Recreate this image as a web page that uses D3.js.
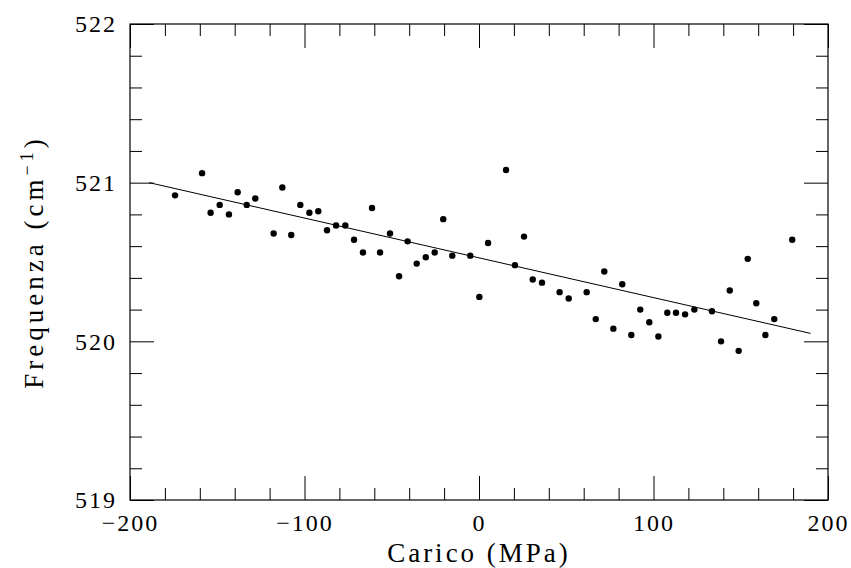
<!DOCTYPE html>
<html>
<head>
<meta charset="utf-8">
<script src="https://cdn.jsdelivr.net/npm/d3@7"></script>
<style>
  body { margin: 0; background: #fff; overflow: hidden; }
  svg { display: block; }
  text { font-family: "Liberation Serif", "DejaVu Serif", serif; fill: #000; }
</style>
</head>
<body>
<div id="chart"></div>
<script>
var carico = [-174.2, -158.7, -153.8, -148.6, -143.3, -138.3, -133.1, -128.2, -117.7, -112.7,
  -107.6, -102.4, -97.2, -92.1, -87.1, -81.9, -76.6, -71.6, -66.5, -61.3,
  -56.7, -51.0, -45.8, -40.9, -35.7, -30.5, -25.4, -20.5, -15.3, -5.0,
  0.2, 5.2, 15.5, 20.6, 25.8, 30.8, 36.1, 46.2, 51.4, 61.7,
  66.9, 71.8, 77.0, 82.1, 87.3, 92.4, 97.6, 102.8, 107.9, 112.9,
  118.1, 123.4, 133.5, 138.7, 143.7, 148.8, 154.0, 158.9, 164.1, 169.2, 179.5];
var frequenza = [520.92, 521.06, 520.81, 520.86, 520.80, 520.94, 520.86, 520.90, 520.68, 520.97,
  520.67, 520.86, 520.81, 520.82, 520.70, 520.73, 520.73, 520.64, 520.56, 520.84,
  520.56, 520.68, 520.41, 520.63, 520.49, 520.53, 520.56, 520.77, 520.54, 520.54,
  520.28, 520.62, 521.08, 520.48, 520.66, 520.39, 520.37, 520.31, 520.27, 520.31,
  520.14, 520.44, 520.08, 520.36, 520.04, 520.20, 520.12, 520.03, 520.18, 520.18,
  520.17, 520.20, 520.19, 520.00, 520.32, 519.94, 520.52, 520.24, 520.04, 520.14, 520.64];

// Fitted line end points
var fitX = [-189, 190];
var fitY = [521.00, 520.05];

var xMajor = [-200, -100, 0, 100, 200];
var yMajor = [519, 520, 521, 522];

var svgWidth = 851;
var svgHeight = 568;
var margin = { top: 24, right: 23, bottom: 68, left: 130 };
var chartWidth = svgWidth - margin.left - margin.right;
var chartHeight = svgHeight - margin.top - margin.bottom;

var svg = d3.select("#chart")
  .append("svg")
  .attr("width", svgWidth)
  .attr("height", svgHeight);

var chartGroup = svg.append("g")
  .attr("transform", `translate(${margin.left}, ${margin.top})`);

var xScale = d3.scaleLinear().domain([-200, 200]).range([0, chartWidth]);
var yScale = d3.scaleLinear().domain([519, 522]).range([chartHeight, 0]);

var xMinor = d3.range(-200, 201, 20).filter(d => d % 100 !== 0);
var yMinor = d3.range(0, 16).map(i => 519 + i * 0.2).filter((d, i) => i % 5 !== 0);

function styleAxis(g) {
  g.select(".domain").remove();
  g.selectAll("line").attr("stroke", "#000").attr("stroke-width", 1);
  g.selectAll("text").style("font-size", "24px").style("letter-spacing", "2px");
}

// bottom axis
chartGroup.append("g")
  .attr("transform", `translate(0, ${chartHeight})`)
  .call(d3.axisBottom(xScale).tickValues(xMajor).tickSize(-24).tickPadding(14))
  .call(styleAxis);
chartGroup.append("g")
  .attr("transform", `translate(0, ${chartHeight})`)
  .call(d3.axisBottom(xScale).tickValues(xMinor).tickSize(-12).tickFormat(""))
  .call(styleAxis);

// top axis
chartGroup.append("g")
  .call(d3.axisTop(xScale).tickValues(xMajor).tickSize(-24).tickFormat(""))
  .call(styleAxis);
chartGroup.append("g")
  .call(d3.axisTop(xScale).tickValues(xMinor).tickSize(-12).tickFormat(""))
  .call(styleAxis);

// left axis
chartGroup.append("g")
  .call(d3.axisLeft(yScale).tickValues(yMajor).tickSize(-24).tickPadding(13).tickFormat(d3.format("d")))
  .call(styleAxis);
chartGroup.append("g")
  .call(d3.axisLeft(yScale).tickValues(yMinor).tickSize(-12).tickFormat(""))
  .call(styleAxis);

// right axis
chartGroup.append("g")
  .attr("transform", `translate(${chartWidth}, 0)`)
  .call(d3.axisRight(yScale).tickValues(yMajor).tickSize(-24).tickFormat(""))
  .call(styleAxis);
chartGroup.append("g")
  .attr("transform", `translate(${chartWidth}, 0)`)
  .call(d3.axisRight(yScale).tickValues(yMinor).tickSize(-12).tickFormat(""))
  .call(styleAxis);

// frame
chartGroup.append("rect")
  .attr("width", chartWidth)
  .attr("height", chartHeight)
  .attr("fill", "none")
  .attr("stroke", "#000")
  .attr("stroke-width", 1.2);

// fit line
var line = d3.line()
  .x((d, i) => xScale(fitX[i]))
  .y(d => yScale(d));
chartGroup.append("path")
  .datum(fitY)
  .attr("d", line)
  .attr("fill", "none")
  .attr("stroke", "#000")
  .attr("stroke-width", 1);

// points
chartGroup.selectAll("circle")
  .data(carico)
  .enter()
  .append("circle")
  .attr("cx", d => xScale(d))
  .attr("cy", (d, i) => yScale(frequenza[i]))
  .attr("r", 3.2)
  .attr("fill", "#000");

// axis titles
chartGroup.append("text")
  .attr("x", chartWidth / 2)
  .attr("y", chartHeight + 62)
  .attr("text-anchor", "middle")
  .style("font-size", "27px")
  .style("letter-spacing", "3px")
  .text("Carico (MPa)");

var yLabel = chartGroup.append("text")
  .attr("transform", `translate(${-87}, ${chartHeight / 2}) rotate(-90)`)
  .attr("text-anchor", "middle")
  .style("font-size", "27px")
  .style("letter-spacing", "4px");
yLabel.append("tspan").text("Frequenza (cm");
yLabel.append("tspan").attr("dy", "-0.55em").style("font-size", "18px").text("−1");
yLabel.append("tspan").attr("dy", "0.37em").text(")");
</script>
</body>
</html>
